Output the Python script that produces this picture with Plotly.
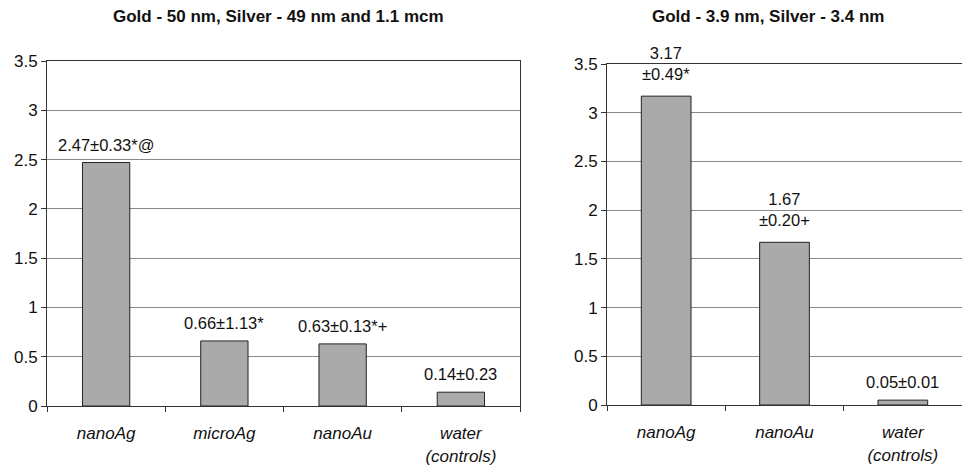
import plotly.graph_objects as go

# Left panel data
left_categories = ["nanoAg", "microAg", "nanoAu", "water<br>(controls)"]
left_values = [2.47, 0.66, 0.63, 0.14]
left_labels = ["2.47±0.33*@", "0.66±1.13*", "0.63±0.13*+", "0.14±0.23"]

# Right panel data
right_categories = ["nanoAg", "nanoAu", "water<br>(controls)"]
right_values = [3.17, 1.67, 0.05]
right_labels = ["3.17<br>±0.49*", "1.67<br>±0.20+", "0.05±0.01"]

y_ticks = [0, 0.5, 1, 1.5, 2, 2.5, 3, 3.5]
y_ticktext = ["0", "0.5", "1", "1.5", "2", "2.5", "3", "3.5"]

titles = ["Gold - 50 nm, Silver - 49 nm and 1.1 mcm", "Gold - 3.9 nm, Silver - 3.4 nm"]

FONT = "Liberation Sans, Arial, sans-serif"
BAR_COLOR = "#aaaaaa"
BAR_LINE = "#222222"
GRID = "#8a8a8a"
AXLINE = "#333333"

fig = go.Figure()

fig.add_trace(go.Bar(
    x=left_categories, y=left_values, xaxis="x", yaxis="y",
    marker=dict(color=BAR_COLOR, line=dict(color=BAR_LINE, width=1)),
    width=0.4, showlegend=False, hoverinfo="skip",
))
fig.add_trace(go.Bar(
    x=right_categories, y=right_values, xaxis="x2", yaxis="y2",
    marker=dict(color=BAR_COLOR, line=dict(color=BAR_LINE, width=1)),
    width=0.42, showlegend=False, hoverinfo="skip",
))

annotations = []
for c, v, t in zip(left_categories, left_values, left_labels):
    annotations.append(dict(x=c, y=v, xref="x", yref="y", text=t, showarrow=False,
                            yanchor="bottom", yshift=7,
                            font=dict(family=FONT, size=16.5, color="#111")))
for c, v, t in zip(right_categories, right_values, right_labels):
    annotations.append(dict(x=c, y=v, xref="x2", yref="y2", text=t, showarrow=False,
                            yanchor="bottom", yshift=11 if "<br>" in t else 7,
                            font=dict(family=FONT, size=16.5, color="#111")))

annotations.append(dict(x=278/962, y=1 - 16/465, xref="paper", yref="paper",
                        text="<b>" + titles[0] + "</b>", showarrow=False,
                        xanchor="center", yanchor="middle",
                        font=dict(family=FONT, size=17, color="#111")))
annotations.append(dict(x=768/962, y=1 - 16/465, xref="paper", yref="paper",
                        text="<b>" + titles[1] + "</b>", showarrow=False,
                        xanchor="center", yanchor="middle",
                        font=dict(family=FONT, size=17, color="#111")))

xcommon = dict(type="category", showline=True, linecolor=AXLINE, linewidth=1,
               ticks="outside", tickson="boundaries", ticklen=5, tickcolor=AXLINE,
               ticklabelstandoff=12, showgrid=False, zeroline=False, automargin=False,
               tickfont=dict(family=FONT, size=17, color="#111", style="italic"))
ycommon = dict(range=[0, 3.5], tickvals=y_ticks, ticktext=y_ticktext,
               showline=True, linecolor=AXLINE, linewidth=1,
               ticks="outside", ticklen=5, tickcolor=AXLINE, showgrid=True,
               gridcolor=GRID, gridwidth=1, zeroline=False, automargin=False,
               tickfont=dict(family=FONT, size=17, color="#111"))

fig.update_layout(
    width=962, height=465, autosize=False,
    margin=dict(l=0, r=0, t=0, b=0),
    paper_bgcolor="white", plot_bgcolor="white",
    bargap=0.6,
    xaxis=dict(domain=[47/962, 520/962], anchor="y", mirror=True, **xcommon),
    yaxis=dict(domain=[1 - 406/465, 1 - 61/465], anchor="x", mirror=True, **ycommon),
    xaxis2=dict(domain=[607/962, 1.0], anchor="y2", mirror=True, **xcommon),
    yaxis2=dict(domain=[1 - 405/465, 1 - 64/465], anchor="x2", **ycommon),
    annotations=annotations,
)

fig.write_html("out.html")
